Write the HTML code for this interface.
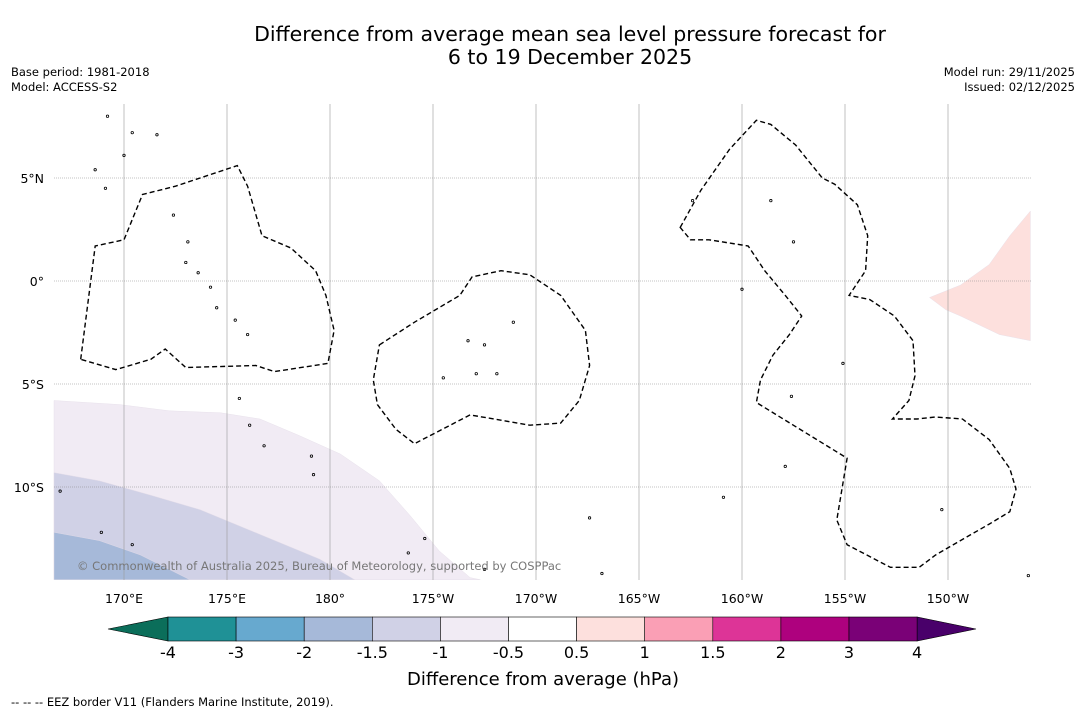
<!DOCTYPE html>
<html><head><meta charset="utf-8"><style>
body{margin:0;background:#fff;font-family:"DejaVu Sans",sans-serif;}
#wrap{position:relative;width:1085px;height:713px;overflow:hidden;}
</style></head><body>
<div id="wrap">
<svg id="svg" width="1085" height="713" xmlns="http://www.w3.org/2000/svg" font-family="DejaVu Sans, sans-serif">
<text x="570" y="41" font-size="20.5" text-anchor="middle">Difference from average mean sea level pressure forecast for</text>
<text x="570" y="64" font-size="20.5" text-anchor="middle">6 to 19 December 2025</text>
<text x="11" y="76" font-size="11.5">Base period: 1981-2018</text>
<text x="11" y="91" font-size="11.5">Model: ACCESS-S2</text>
<text x="1075" y="76" font-size="11.5" text-anchor="end">Model run: 29/11/2025</text>
<text x="1075" y="91" font-size="11.5" text-anchor="end">Issued: 02/12/2025</text>
<g id="map"></g>
<g id="cbar"></g>
<text x="543" y="685" font-size="18" text-anchor="middle">Difference from average (hPa)</text>
<text x="11" y="706" font-size="11.5">--  --  -- EEZ border V11 (Flanders Marine Institute, 2019).</text>
</svg>
</div>
<script>
const lonTicks=[170,175,180,185,190,195,200,205,210];
const lonLabels=["170°E","175°E","180°","175°W","170°W","165°W","160°W","155°W","150°W"];
const latTicks=[5,0,-5,-10];
const latLabels=["5°N","0°","5°S","10°S"];
const levels=["-4","-3","-2","-1.5","-1","-0.5","0.5","1","1.5","2","3","4"];
const levelColors=["#1f9196","#67a9cf","#a6b9d9","#d0d1e6","#f1ebf4","#ffffff","#fde0dd","#fa9fb5","#dd3497","#ae017e","#7a0177"];
const fillLight=[[166.6,-5.8],[169.8,-6.0],[172.2,-6.3],[174.7,-6.4],[176.6,-6.7],[178.5,-7.5],[180.5,-8.4],[182.4,-9.7],[183.9,-11.4],[185.3,-13.1],[186.8,-14.4],[187.3,-14.5],[166.6,-14.5]];
const fillMid=[[166.6,-9.3],[168.8,-9.7],[171.3,-10.4],[173.7,-11.1],[176.6,-12.3],[179.5,-13.5],[181.2,-14.5],[166.6,-14.5]];
const fillDark=[[166.6,-12.2],[168.8,-12.6],[170.8,-13.3],[173.2,-14.5],[166.6,-14.5]];
const fillPink=[[209.1,-0.8],[210.6,-0.2],[212.0,0.8],[213.0,2.2],[214.0,3.4],[214.0,-2.9],[212.5,-2.6],[210.6,-1.7],[209.9,-1.4]];
const eezGilbert=[[167.9,-3.8],[168.6,1.7],[170.0,2.0],[170.9,4.2],[172.5,4.6],[175.5,5.6],[176.0,4.6],[176.7,2.2],[178.1,1.6],[179.3,0.5],[179.8,-0.7],[180.2,-2.4],[179.9,-4.0],[177.3,-4.4],[176.4,-4.1],[173.0,-4.2],[172.0,-3.3],[171.3,-3.8],[169.6,-4.3]];
const eezPhoenix=[[182.4,-3.1],[184.1,-2.0],[186.3,-0.7],[186.9,0.2],[188.3,0.5],[189.7,0.3],[191.2,-0.7],[192.4,-2.4],[192.6,-4.1],[192.1,-5.8],[191.2,-6.9],[189.7,-7.0],[186.8,-6.5],[184.1,-7.9],[183.2,-7.2],[182.3,-6.0],[182.1,-4.8]];
const eezLine=[[197.0,2.6],[198.0,4.4],[199.4,6.4],[200.7,7.8],[201.4,7.6],[202.6,6.6],[203.9,5.0],[204.5,4.7],[205.6,3.7],[206.1,2.2],[206.0,0.5],[205.2,-0.7],[206.2,-0.9],[207.4,-1.7],[208.3,-2.9],[208.4,-4.6],[208.1,-5.8],[207.3,-6.7],[208.5,-6.7],[209.4,-6.6],[210.7,-6.7],[212.0,-7.7],[213.0,-9.1],[213.3,-10.1],[213.0,-11.2],[212.0,-11.8],[210.6,-12.6],[209.4,-13.3],[208.6,-13.9],[207.2,-13.9],[205.1,-12.8],[204.6,-11.6],[205.1,-8.6],[200.7,-5.9],[200.9,-4.8],[201.5,-3.6],[202.3,-2.6],[202.9,-1.7],[202.1,-0.7],[201.1,0.5],[200.3,1.7],[198.4,2.0],[197.5,2.0],[197.0,2.6]];
const islands=[[169.2,8.0],[170.4,7.2],[171.6,7.1],[170.0,6.1],[168.6,5.4],[169.1,4.5],[172.4,3.2],[173.1,1.9],[173.0,0.9],[173.6,0.4],[174.2,-0.3],[174.5,-1.3],[175.4,-1.9],[176.0,-2.6],[175.6,-5.7],[176.1,-7.0],[176.8,-8.0],[179.1,-8.5],[179.2,-9.4],[186.7,-2.9],[187.5,-3.1],[185.5,-4.7],[187.1,-4.5],[188.1,-4.5],[184.6,-12.5],[188.9,-2.0],[192.6,-11.5],[197.6,3.9],[201.4,3.9],[202.5,1.9],[200.0,-0.4],[202.4,-5.6],[204.9,-4.0],[202.1,-9.0],[199.1,-10.5],[209.7,-11.1],[213.9,-14.3],[193.2,-14.2],[187.5,-14.0],[183.8,-13.2],[168.9,-12.2],[166.9,-10.2],[170.4,-12.8]];
const X0=54,X1=1031,Y0=104,Y1=580,PX=20.6;
const xs=l=>330+(l-180)*PX, ys=l=>281-l*PX;
const NS="http://www.w3.org/2000/svg";
function mk(tag,attrs,parent){const e=document.createElementNS(NS,tag);for(const k in attrs)e.setAttribute(k,attrs[k]);parent.appendChild(e);return e;}
const map=document.getElementById('map');
const pts=a=>a.map(p=>xs(p[0]).toFixed(1)+','+ys(p[1]).toFixed(1)).join(' ');
const fills=[[fillLight,levelColors[4],'fill-minus1'],[fillMid,levelColors[3],'fill-minus1-5'],[fillDark,levelColors[2],'fill-minus2'],[fillPink,levelColors[6],'fill-plus0-5']];
fills.forEach(f=>{const e=mk('polygon',{points:pts(f[0]),fill:f[1],stroke:'#e4dde8','stroke-width':0.4},map);

});
lonTicks.forEach((t,i)=>{const x=xs(t);const l=mk('line',{x1:x,x2:x,y1:Y0,y2:Y1,stroke:'#999','stroke-width':0.6},map);


const tx=mk('text',{x:x,y:603,'font-size':12.5,'text-anchor':'middle'},map);tx.textContent=lonLabels[i];

});
latTicks.forEach((t,i)=>{const y=ys(t);const l=mk('line',{x1:X0,x2:X1,y1:y,y2:y,stroke:'#888','stroke-width':0.6,'stroke-dasharray':'1,1'},map);


const tx=mk('text',{x:44,y:y+5,'font-size':12.5,'text-anchor':'end'},map);tx.textContent=latLabels[i];

});
islands.forEach(p=>{const c=mk('circle',{cx:xs(p[0]),cy:ys(p[1]),r:1.2,fill:'none',stroke:'#000','stroke-width':0.8},map);

});
[[eezGilbert,'eez-gilbert'],[eezPhoenix,'eez-phoenix'],[eezLine,'eez-line-islands']].forEach(e=>{const p=mk('polygon',{points:pts(e[0]),fill:'none',stroke:'#000','stroke-width':1.4,'stroke-dasharray':'5,3'},map);

});
const cp=mk('text',{x:77,y:570,'font-size':11.5,fill:'#777'},map);cp.textContent='© Commonwealth of Australia 2025, Bureau of Meteorology, supported by COSPPac';


const cb=document.getElementById('cbar');
const cx0=168,cw=68.1,cy=617,ch=24;
const lo=mk('polygon',{points:`108,${cy+ch/2} ${cx0},${cy} ${cx0},${cy+ch}`,fill:'#0b6e5a',stroke:'#000','stroke-width':0.6},cb);


const xe=cx0+cw*levelColors.length;
const hi=mk('polygon',{points:`${xe},${cy} ${xe},${cy+ch} 976,${cy+ch/2}`,fill:'#49006a',stroke:'#000','stroke-width':0.6},cb);


levelColors.forEach((c,i)=>{const r=mk('rect',{x:cx0+i*cw,y:cy,width:cw,height:ch,fill:c,stroke:'#000','stroke-width':0.6},cb);

});
levels.forEach((s,i)=>{const t=mk('text',{x:cx0+i*cw,y:658,'font-size':16,'text-anchor':'middle'},cb);t.textContent=s;

});
</script>
</body></html>
